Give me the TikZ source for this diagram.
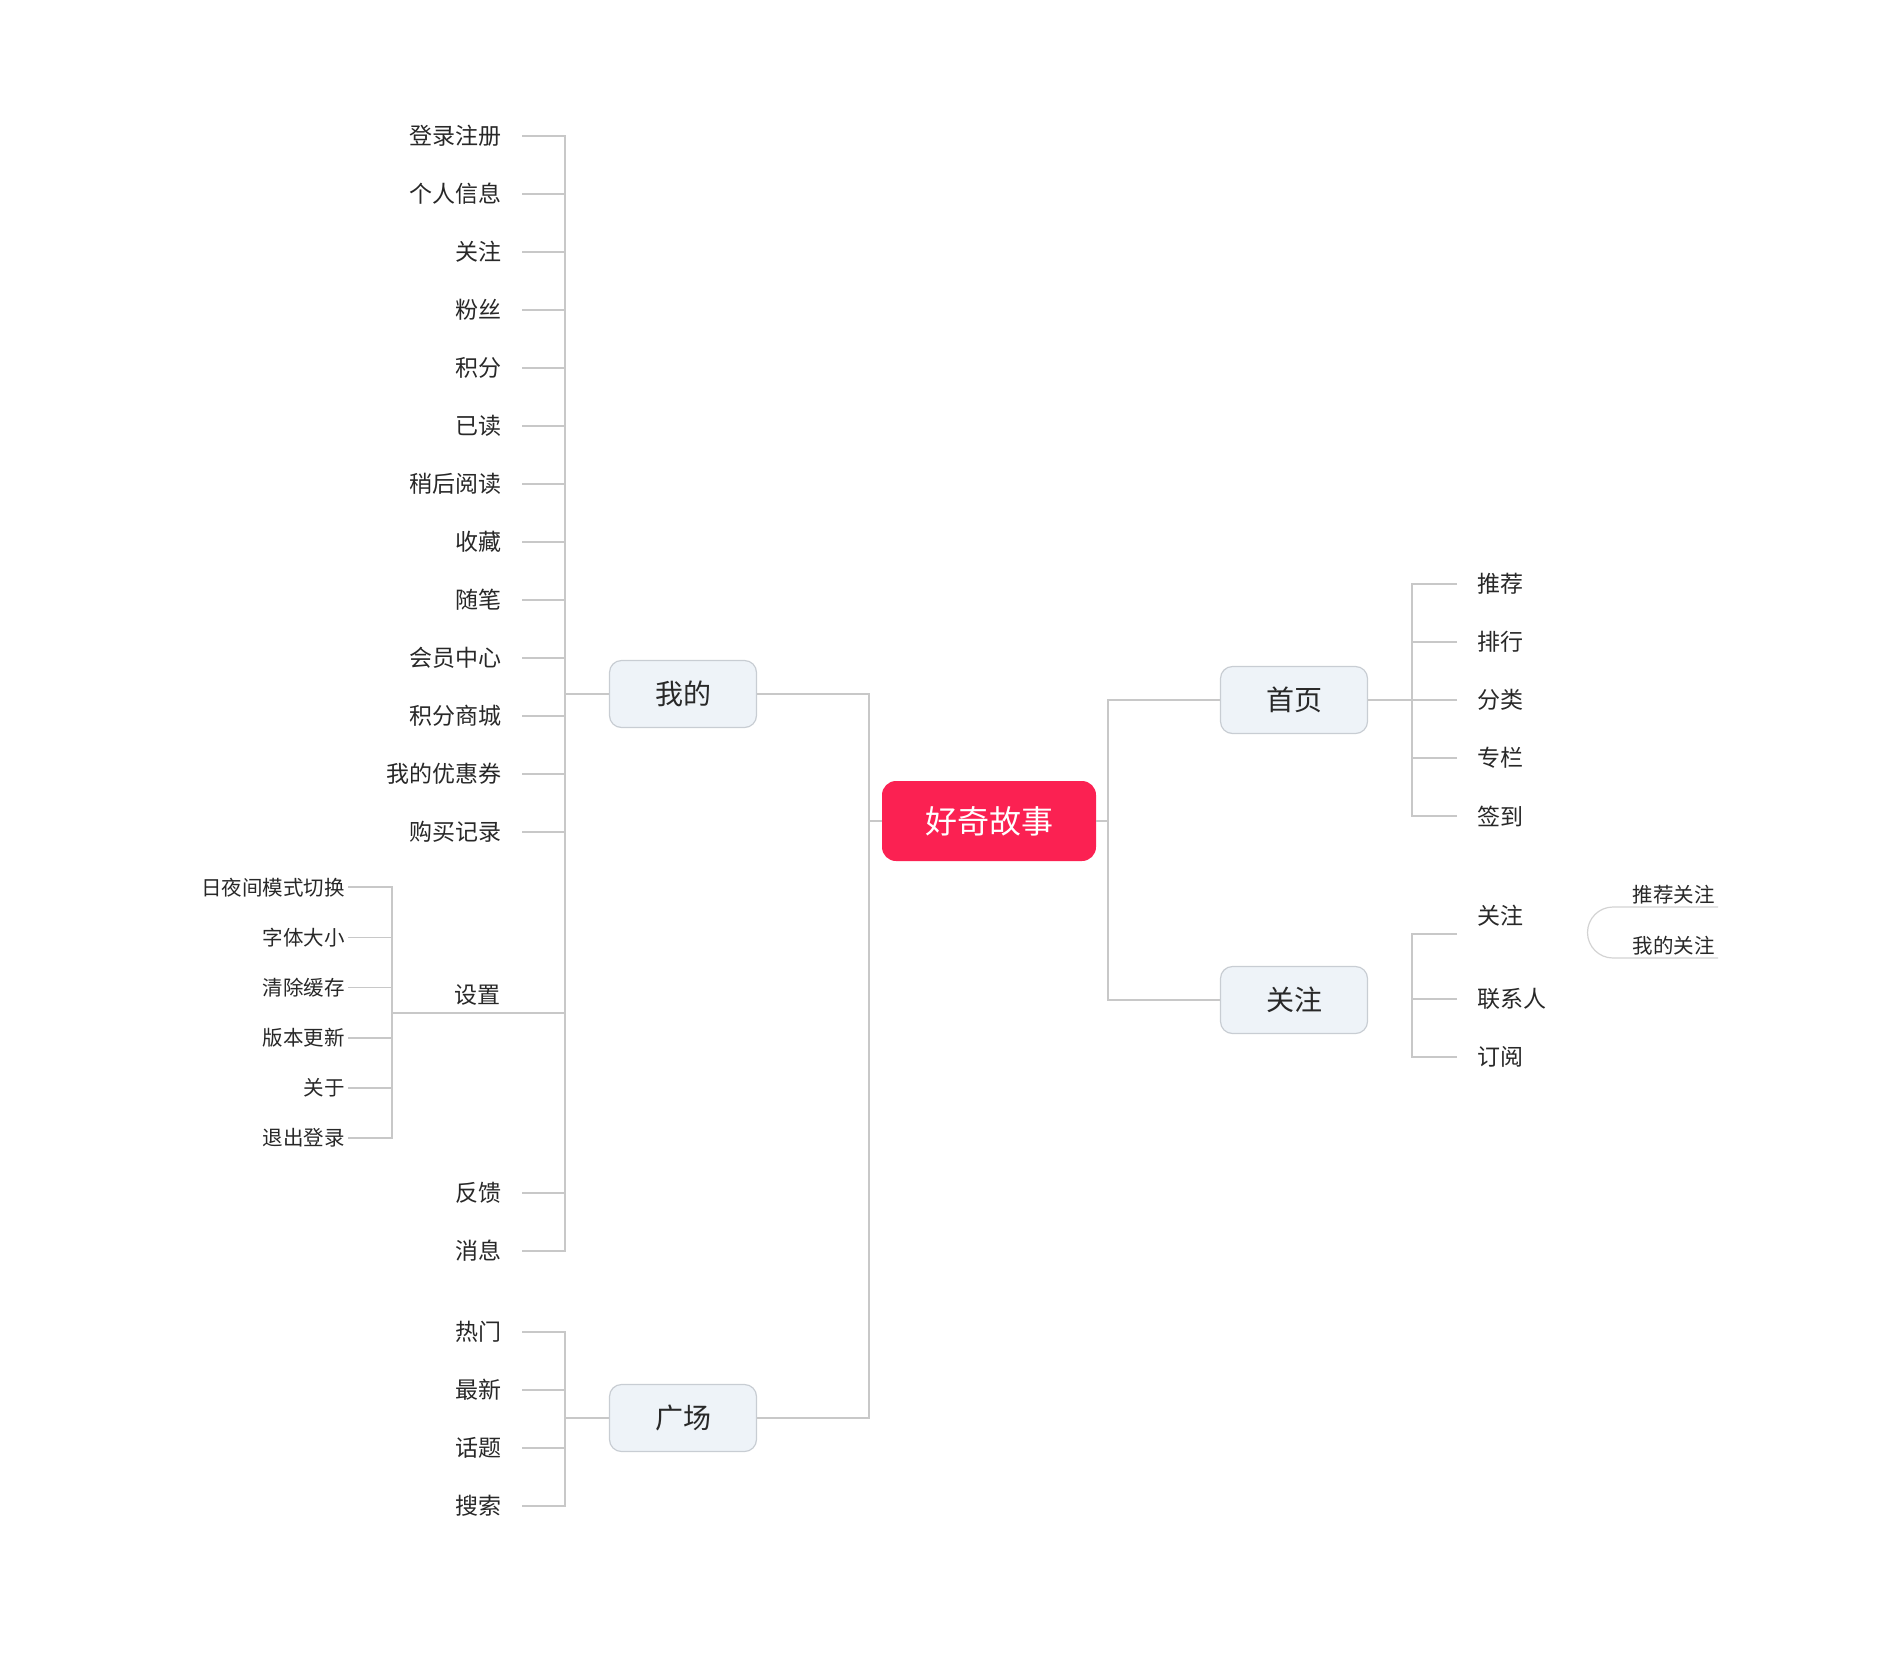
\documentclass[tikz,border=0pt]{standalone}
\usepackage{fontspec}
\newfontfamily\cjk{Noto Sans CJK SC}
\definecolor{rootred}{RGB}{251,33,82}
\definecolor{boxfill}{RGB}{238,243,248}
\definecolor{boxline}{RGB}{200,205,211}
\definecolor{linkgray}{RGB}{200,200,200}
\definecolor{txt}{RGB}{40,40,40}

\begin{document}
\begin{tikzpicture}[x=0.5pt,y=-0.5pt,
  link/.style={draw=linkgray,line width=0.8pt},
  rootbox/.style={fill=rootred,text=white,rounded corners=7pt,minimum width=107pt,minimum height=40pt,font=\cjk\fontsize{16}{19}\selectfont},
  topic/.style={fill=boxfill,draw=boxline,line width=0.6pt,text=txt,rounded corners=6pt,minimum width=73.5pt,minimum height=33.5pt,font=\cjk\fontsize{14}{17}\selectfont},
  leaf/.style={text=txt,inner xsep=10pt,inner ysep=1pt,font=\cjk\fontsize{11.5}{14}\selectfont},
  subleaf/.style={text=txt,inner xsep=1.5pt,inner ysep=1pt,font=\cjk\fontsize{10.25}{12}\selectfont}]
\useasboundingbox (0,0) rectangle (1890,1655);

% main topics
\node[rootbox] (root) at (989,821) {好奇故事};
\node[topic] (mine) at (683,694) {我的};
\node[topic] (square) at (683,1418) {广场};
\node[topic] (home) at (1294,700) {首页};
\node[topic] (follow) at (1294,1000) {关注};

\coordinate (lbar) at (869,821);
\coordinate (rbar) at (1108,821);
\coordinate (mbar) at (565,694);
\coordinate (setbar) at (392,1013);
\coordinate (sqbar) at (565,1418);
\coordinate (hbar) at (1412,700);
\coordinate (fbar) at (1412,1000);

% left side
\foreach \t [count=\i] in {登录注册,个人信息,关注,粉丝,积分,已读,稍后阅读,收藏,随笔,会员中心,积分商城,我的优惠券,购买记录}
  \node[leaf,anchor=east] (m\i) at (522,{78+58*\i}) {\t};
\node[leaf,anchor=east] (m14) at (522,1193) {反馈};
\node[leaf,anchor=east] (m15) at (522,1251) {消息};
\node[leaf,anchor=south east,inner xsep=0pt,inner ysep=3.5pt] (set) at (501,1013) {设置};
\foreach \t [count=\i] in {日夜间模式切换,字体大小,清除缓存,版本更新,关于,退出登录}
  \node[subleaf,anchor=east] (s\i) at (348,{837+50.2*\i}) {\t};
\foreach \t [count=\i] in {热门,最新,话题,搜索}
  \node[leaf,anchor=east] (q\i) at (522,{1274+58*\i}) {\t};

% right side
\foreach \t [count=\i] in {推荐,排行,分类,专栏,签到}
  \node[leaf,anchor=west] (h\i) at (1457,{526+58*\i}) {\t};
\node[leaf,anchor=south west,inner ysep=3.5pt] (f1) at (1457,934) {关注};
\node[leaf,anchor=west] (f2) at (1457,999) {联系人};
\node[leaf,anchor=west] (f3) at (1457,1057) {订阅};
\node[subleaf,anchor=south east] (g1) at (1718,907) {推荐关注};
\node[subleaf,anchor=south east] (g2) at (1718,958) {我的关注};

% connectors
\draw[link] (root.west) -- (lbar);
\draw[link] (mine.east) -| (lbar);
\draw[link] (square.east) -| (lbar);
\draw[link] (root.east) -- (rbar);
\draw[link] (home.west) -| (rbar);
\draw[link] (follow.west) -| (rbar);
\draw[link] (mine.west) -- (mbar);
\foreach \i in {1,...,15} \draw[link] (m\i.east) -| (mbar);
\draw[link] (setbar) -- (set.south) -| (mbar);
\foreach \i in {1,...,6} \draw[link] (s\i.east) -| (setbar);
\draw[link] (square.west) -- (sqbar);
\foreach \i in {1,...,4} \draw[link] (q\i.east) -| (sqbar);
\draw[link] (home.east) -- (hbar);
\foreach \i in {1,...,5} \draw[link] (h\i.west) -| (hbar);
\draw[link] (f1.south west) -| (fbar);
\foreach \i in {2,3} \draw[link] (f\i.west) -| (fbar);
\draw[link,line width=0.6pt,draw=linkgray!80] (g1.south east) -- ++(-105,0) arc[start angle=90,end angle=270,radius=12.75pt] -- (g2.south east);
\end{tikzpicture}
\end{document}
